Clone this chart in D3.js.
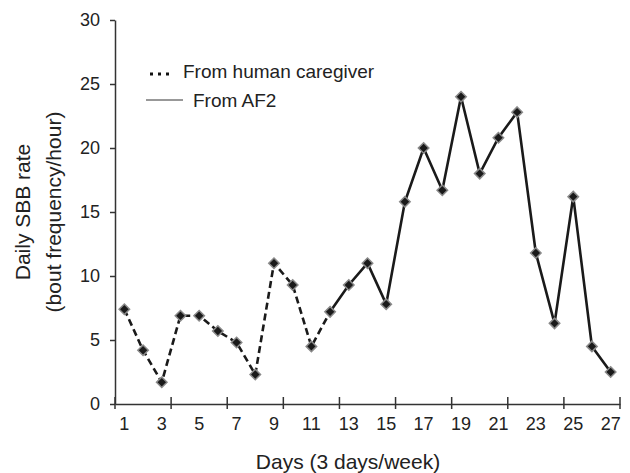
<!DOCTYPE html>
<html>
<head>
<meta charset="utf-8">
<script src="https://cdn.jsdelivr.net/npm/d3@7"></script>
<style>
  body { margin: 0; background: #fff; }
  svg text { font-family: "Liberation Sans", Arial, sans-serif; fill: #222; }
</style>
</head>
<body>
<div id="chart"></div>
<script>
// data
var days = d3.range(1, 28);
var rates = [7.4, 4.2, 1.7, 6.9, 6.9, 5.7, 4.8, 2.3, 11.0, 9.3, 4.5, 7.2, 9.3, 11.0,
             7.8, 15.8, 20.0, 16.7, 24.0, 18.0, 20.8, 22.8, 11.8, 6.3, 16.2, 4.5, 2.5];
var caregiverDays = d3.range(1, 13);   // dashed part
var af2Days = d3.range(12, 28);        // solid part
var yTicks = [0, 5, 10, 15, 20, 25, 30];
var xLabels = d3.range(1, 28, 2);
var xTickDays = [1, 4, 7, 10, 13, 16, 19, 22, 25];

var width = 630, height = 473;

var svg = d3.select("#chart").append("svg")
    .attr("width", width)
    .attr("height", height);

var x = d3.scaleBand()
    .domain(days)
    .range([115, 620]);

var y = d3.scaleLinear()
    .domain([0, 30])
    .range([404, 20]);

var cx = function(d) { return x(d) + x.bandwidth() / 2; };
var valueOf = function(d) { return rates[d - 1]; };

// y axis
var yAxis = svg.append("g")
    .attr("transform", "translate(115,0)")
    .call(d3.axisLeft(y).tickValues(yTicks).tickSize(5).tickSizeOuter(0).tickPadding(10));
yAxis.select(".domain").attr("stroke", "#333").attr("stroke-width", 1.5);
yAxis.selectAll(".tick line").attr("stroke", "#333").attr("stroke-width", 1.5);
yAxis.selectAll("text").style("font-size", "18px").attr("fill", "#222");

// x axis
var xAxis = svg.append("g")
    .attr("transform", "translate(0,404)")
    .call(d3.axisBottom(x).tickValues(xLabels).tickSize(0).tickSizeOuter(0).tickPadding(13));
xAxis.select(".domain").attr("stroke", "#333").attr("stroke-width", 1.5);
xAxis.selectAll("text").style("font-size", "18px").attr("fill", "#222");

var xTickPos = xTickDays.map(function(d) { return x(d); }).concat([x.range()[1]]);
svg.append("g")
    .selectAll("line")
    .data(xTickPos)
    .join("line")
    .attr("x1", d => d)
    .attr("x2", d => d)
    .attr("y1", 397)
    .attr("y2", 409)
    .attr("stroke", "#333")
    .attr("stroke-width", 1.5);

// axis titles
svg.append("text")
    .attr("x", 348)
    .attr("y", 469)
    .attr("text-anchor", "middle")
    .style("font-size", "21px")
    .text("Days (3 days/week)");

var yTitle = svg.append("text")
    .attr("transform", "translate(30," + y(15) + ") rotate(-90)")
    .attr("text-anchor", "middle")
    .style("font-size", "21px");
yTitle.append("tspan").attr("x", 0).attr("dy", 0).text("Daily SBB rate");
yTitle.append("tspan").attr("x", 0).attr("dy", 31).text("(bout frequency/hour)");

// lines
var line = d3.line()
    .x(cx)
    .y(d => y(valueOf(d)));

svg.append("path")
    .datum(caregiverDays)
    .attr("d", line)
    .attr("fill", "none")
    .attr("stroke", "#1a1a1a")
    .attr("stroke-width", 2.6)
    .attr("stroke-dasharray", "7,4");

svg.append("path")
    .datum(af2Days)
    .attr("d", line)
    .attr("fill", "none")
    .attr("stroke", "#1a1a1a")
    .attr("stroke-width", 2.6);

// diamond markers
svg.append("g")
    .selectAll("path")
    .data(days)
    .join("path")
    .attr("d", d3.symbol().type(d3.symbolDiamond2).size(70))
    .attr("transform", d => "translate(" + cx(d) + "," + y(valueOf(d)) + ")")
    .attr("fill", "#1a1a1a")
    .attr("stroke", "#8a8a8a")
    .attr("stroke-width", 1.5);

// legend
var legend = svg.append("g");
legend.append("line")
    .attr("x1", 150).attr("x2", 173)
    .attr("y1", 74).attr("y2", 74)
    .attr("stroke", "#111")
    .attr("stroke-width", 3)
    .attr("stroke-dasharray", "3,5");
legend.append("text")
    .attr("x", 183).attr("y", 78)
    .style("font-size", "19px")
    .text("From human caregiver");
legend.append("line")
    .attr("x1", 146).attr("x2", 183)
    .attr("y1", 100).attr("y2", 100)
    .attr("stroke", "#333")
    .attr("stroke-width", 1);
legend.append("text")
    .attr("x", 193).attr("y", 107)
    .style("font-size", "19px")
    .text("From AF2");
</script>
</body>
</html>
